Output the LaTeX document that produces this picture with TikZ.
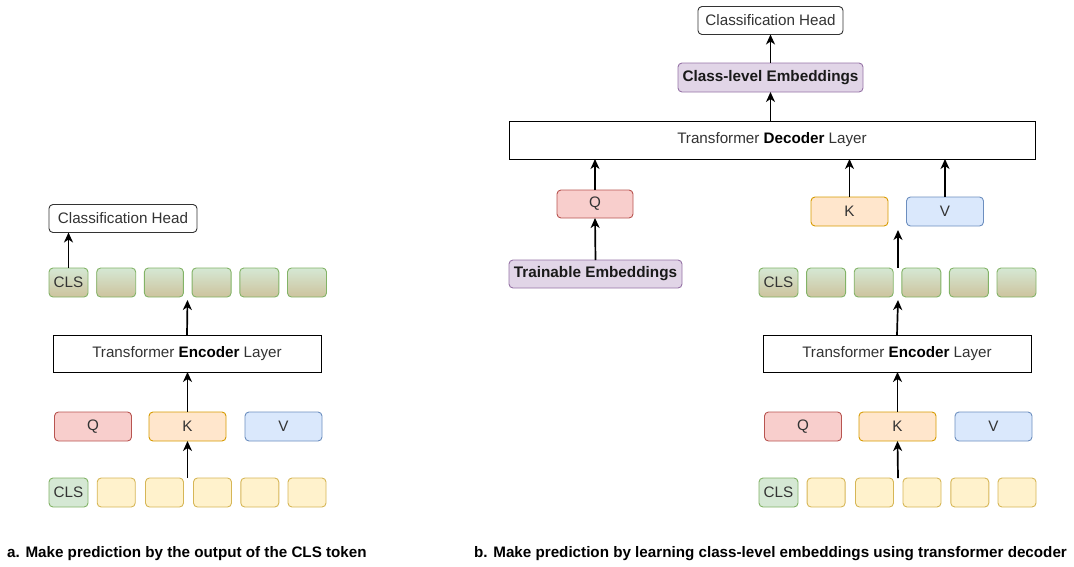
\documentclass[tikz,border=0pt]{standalone}
\usepackage{fontspec}
\setmainfont{Liberation Sans}
\usetikzlibrary{arrows.meta}
\definecolor{txt}{HTML}{333333}
\definecolor{gtop}{HTML}{D5E8D4}
\definecolor{gbot}{HTML}{CDC39D}
\definecolor{gline}{HTML}{82B366}
\definecolor{yfill}{HTML}{FFF2CC}
\definecolor{yline}{HTML}{D6B656}
\definecolor{qfill}{HTML}{F8CECC}
\definecolor{qline}{HTML}{B85450}
\definecolor{kfill}{HTML}{FFE6CC}
\definecolor{kline}{HTML}{D79B00}
\definecolor{vfill}{HTML}{DAE8FC}
\definecolor{vline}{HTML}{6C8EBF}
\definecolor{pfill}{HTML}{E1D5E7}
\definecolor{pline}{HTML}{9673A6}
\tikzset{
  base/.style={inner sep=0pt, outer sep=0pt, line width=0.9pt, font=\fontsize{15.2}{17}\selectfont, text=txt},
  rbox/.style={base, rounded corners=4pt},
  headbox/.style={rbox, draw=black!80, fill=white, minimum height=28pt},
  layerbox/.style={base, draw=black, fill=white, minimum height=37pt},
  gtok/.style={rbox, draw=gline, top color=gtop, bottom color=gbot, minimum width=39pt, minimum height=29pt},
  ytok/.style={rbox, draw=yline, fill=yfill, minimum width=38pt, minimum height=29pt},
  ctok/.style={rbox, draw=gline, fill=gtop, minimum width=39pt, minimum height=29pt},
  qbox/.style={rbox, draw=qline, fill=qfill, minimum width=77pt, minimum height=29pt},
  kbox/.style={rbox, draw=kline, fill=kfill, minimum width=77pt, minimum height=29pt},
  vbox/.style={rbox, draw=vline, fill=vfill, minimum width=77pt, minimum height=29pt},
  pbox/.style={rbox, draw=pline, fill=pfill, minimum height=29pt, font=\fontsize{15.3}{17}\selectfont\bfseries, text=black!90},
  arr/.style={-{Stealth[length=10pt,width=9pt,inset=3pt]}, line width=1.7pt, black},
  captext/.style={inner sep=0pt, anchor=base west, font=\fontsize{15.2}{17}\selectfont\bfseries, text=black}
}
\begin{document}
\begin{tikzpicture}[x=1pt,y=-1pt]
\useasboundingbox (0,0) rectangle (1074,566);
% ---------------- left (a) ----------------
\node[headbox, minimum width=148pt] (lhead) at (123,218.5) {Classification Head};
\node[gtok] (lt1) at (68.5,282.5) {CLS};
\node[gtok] (lt2) at (116.2,282.5) {};
\node[gtok] (lt3) at (163.9,282.5) {};
\node[gtok] (lt4) at (211.6,282.5) {};
\node[gtok] (lt5) at (259.3,282.5) {};
\node[gtok] (lt6) at (307,282.5) {};
\node[layerbox, minimum width=268pt] (lenc) at (187,353.5) {Transformer \textbf{\color{black}Encoder} Layer};
\node[qbox] (lQ) at (93,426.5) {Q};
\node[kbox] (lK) at (187.5,426.5) {K};
\node[vbox] (lV) at (283.5,426.5) {V};
\node[ctok] (lb1) at (68.5,492.5) {CLS};
\node[ytok] (lb2) at (116.2,492.5) {};
\node[ytok] (lb3) at (164.5,492.5) {};
\node[ytok] (lb4) at (212.5,492.5) {};
\node[ytok] (lb5) at (259.8,492.5) {};
\node[ytok] (lb6) at (307,492.5) {};
\coordinate (lin) at (187.5,478);
\coordinate (lout) at (187.5,300);
\draw[arr] (lt1.north) -- (lt1.north |- lhead.south);
\draw[arr] (lenc.north) -- (lout);
\draw[arr] (lK.north) -- (lK.north |- lenc.south);
\draw[arr] (lin) -- (lK.south);
% ---------------- right (b) ----------------
\node[headbox, minimum width=145pt] (rhead) at (770.5,20.5) {Classification Head};
\node[pbox, minimum width=185pt] (rcle) at (770.5,77.5) {Class-level Embeddings};
\node[layerbox, minimum width=526pt, minimum height=38pt] (rdec) at (772,140) {Transformer \textbf{\color{black}Decoder} Layer};
\node[qbox, minimum width=76pt, minimum height=28pt] (rQ) at (595,204) {Q};
\node[pbox, minimum width=173pt, minimum height=28pt] (rtrain) at (595.5,274) {Trainable Embeddings};
\node[kbox] (rK) at (849.5,211.5) {K};
\node[vbox] (rV) at (945,211.5) {V};
\node[gtok] (rt1) at (778.5,282.5) {CLS};
\node[gtok] (rt2) at (826.1,282.5) {};
\node[gtok] (rt3) at (873.7,282.5) {};
\node[gtok] (rt4) at (921.3,282.5) {};
\node[gtok] (rt5) at (968.9,282.5) {};
\node[gtok] (rt6) at (1016.5,282.5) {};
\node[layerbox, minimum width=268pt] (renc) at (897,353.5) {Transformer \textbf{\color{black}Encoder} Layer};
\node[qbox] (rQ2) at (803,426.5) {Q};
\node[kbox] (rK2) at (897.5,426.5) {K};
\node[vbox] (rV2) at (993.5,426.5) {V};
\node[ctok] (rb1) at (778.5,492.5) {CLS};
\node[ytok] (rb2) at (826.1,492.5) {};
\node[ytok] (rb3) at (874.5,492.5) {};
\node[ytok] (rb4) at (922,492.5) {};
\node[ytok] (rb5) at (969.8,492.5) {};
\node[ytok] (rb6) at (1017,492.5) {};
\draw[arr] (rcle.north |- rdec.north) -- (rcle.south);
\draw[arr] (rcle.north) -- (rhead.south);
\draw[arr] (rtrain.north) -- (rQ.south);
\draw[arr] (rQ.north) -- (rQ.north |- rdec.south);
\draw[arr] (rK.north) -- (rK.north |- rdec.south);
\draw[arr] (rV.north) -- (rV.north |- rdec.south);
\coordinate (rtop) at (898,268);
\coordinate (rtopend) at (898,230);
\coordinate (rout) at (898,300);
\coordinate (rin) at (898,478);
\draw[arr] (rtop) -- (rtopend);
\draw[arr] (renc.north) -- (rout);
\draw[arr] (rK2.north) -- (rK2.north |- renc.south);
\draw[arr] (rin) -- (rK2.south);
% ---------------- captions ----------------
\node[captext] (capa) at (7,557) {a. Make prediction by the output of the CLS token};
\node[captext] (capb) at (474,557) {b. Make prediction by learning class-level embeddings using transformer decoder};
\end{tikzpicture}
\end{document}
